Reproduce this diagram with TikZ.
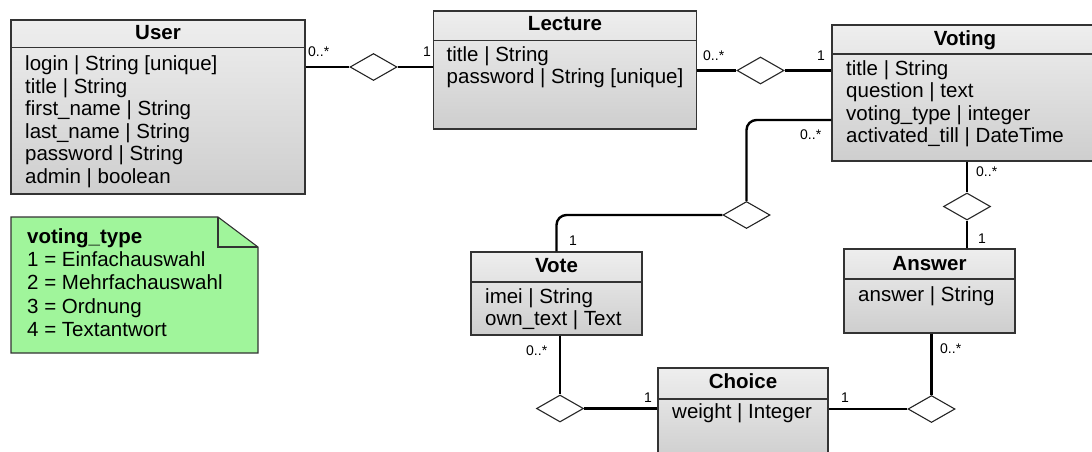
\documentclass[tikz,border=0pt]{standalone}
\usepackage{fontspec}
\setmainfont{Liberation Sans}
\usepackage{tikz}
\usetikzlibrary{shapes.geometric}
\definecolor{notegreen}{RGB}{160,245,155}
\definecolor{boxtop}{RGB}{238,238,238}
\definecolor{boxbottom}{RGB}{206,206,206}

\begin{document}
\begin{tikzpicture}[x=1pt, y=-1pt,
    classbox/.style={draw=black!80, line width=1.1pt, top color=boxtop, bottom color=boxbottom, inner sep=0pt},
    classname/.style={anchor=base, inner sep=0pt, font=\bfseries\fontsize{20.5}{22.5}\selectfont},
    attrs/.style={anchor=base west, inner sep=0pt, align=left, font=\fontsize{20.5}{22.5}\selectfont},
    sepline/.style={draw=black!80, line width=1.1pt},
    agg/.style={diamond, draw=black!85, line width=1.1pt, fill=white, inner sep=0pt, minimum width=47pt, minimum height=27pt},
    assoc/.style={line width=2.4pt},
    mult/.style={anchor=base west, inner sep=0pt, font=\fontsize{14}{16}\selectfont}]
  \useasboundingbox (0,0) rectangle (1092,451);
  \clip (0,0) rectangle (1092,451);

  \node[classbox, minimum width=294pt, minimum height=174pt] (user) at (158,107) {};
  \draw[sepline] (11,47.5) -- (305,47.5);
  \node[classname] (username) at (158,39.5) {User};
  \node[attrs] (userattrs) at (25,183) {login | String [unique]\\title | String\\first\_name | String\\last\_name | String\\password | String\\admin | boolean};

  \node[classbox, minimum width=263pt, minimum height=118pt] (lecture) at (565,70) {};
  \draw[sepline] (433.5,40.5) -- (696.5,40.5);
  \node[classname] (lecturename) at (565,30) {Lecture};
  \node[attrs] (lectureattrs) at (446.5,83.5) {title | String\\password | String [unique]};

  \node[classbox, minimum width=266pt, minimum height=136pt] (voting) at (965,93) {};
  \draw[sepline] (832,54) -- (1098,54);
  \node[classname] (votingname) at (965,45) {Voting};
  \node[attrs] (votingattrs) at (846,142.5) {title | String\\question | text\\voting\_type | integer\\activated\_till | DateTime};

  \node[classbox, minimum width=171pt, minimum height=83pt] (vote) at (556.5,293.5) {};
  \draw[sepline] (471,282) -- (642,282);
  \node[classname] (votename) at (556.5,272) {Vote};
  \node[attrs] (voteattrs) at (485,325.5) {imei | String\\own\_text | Text};

  \node[classbox, minimum width=171pt, minimum height=84pt] (answer) at (929.5,291) {};
  \draw[sepline] (844,279) -- (1015,279);
  \node[classname] (answername) at (929.5,270.5) {Answer};
  \node[attrs] (answerattrs) at (858,301.5) {answer | String};

  \node[classbox, minimum width=170pt, minimum height=92pt] (choice) at (743,414) {};
  \draw[sepline] (658,399) -- (828,399);
  \node[classname] (choicename) at (743,388) {Choice};
  \node[attrs] (choiceattrs) at (672,418) {weight | Integer};

  \draw[draw=black!80, line width=1.1pt, fill=notegreen] (11,217) -- (218,217) -- (258,247) -- (258,353) -- (11,353) -- cycle;
  \draw[draw=black!80, line width=1.1pt] (218,217) -- (218,247) -- (258,247);
  \node[attrs, font=\fontsize{20.5}{23.4}\selectfont] (notetext) at (27,336.6) {\textbf{voting\_type}\\1 = Einfachauswahl\\2 = Mehrfachauswahl\\3 = Ordnung\\4 = Textantwort};

  \node[agg] (d1) at (373.5,67) {};
  \node[agg] (d2) at (760.5,70.5) {};
  \node[agg] (d3) at (746.5,215) {};
  \node[agg] (d4) at (967,206.5) {};
  \node[agg] (d5) at (560,408.5) {};
  \node[agg] (d6) at (931.5,409) {};
  \coordinate (votingleft) at ([yshift=-27pt]voting.west);

  \draw[assoc] (d1 -| user.east) -- (d1.west);
  \draw[assoc] (d1.east) -- (d1 -| lecture.west);
  \draw[assoc] (d2 -| lecture.east) -- (d2.west);
  \draw[assoc] (d2.east) -- (d2 -| voting.west);
  \draw[assoc, rounded corners=10pt] (votingleft) -| (d3.north);
  \draw[assoc, rounded corners=10pt] (d3.west) -| (vote.north);
  \draw[assoc] (d4 |- voting.south) -- (d4.north);
  \draw[assoc] (d4.south) -- (d4 |- answer.north);
  \draw[assoc] (d5 |- vote.south) -- (d5.north);
  \draw[assoc] (d5.east) -- (d5 -| choice.west);
  \draw[assoc] (d6 |- answer.south) -- (d6.north);
  \draw[assoc] (d6.west) -- (d6 -| choice.east);

  \node[mult] (m1) at (308,56) {0..*};
  \node[mult] (m2) at (423,56) {1};
  \node[mult] (m3) at (703,60.7) {0..*};
  \node[mult] (m4) at (817,60.7) {1};
  \node[mult] (m5) at (800,139) {0..*};
  \node[mult] (m6) at (569,245) {1};
  \node[mult] (m7) at (976,176) {0..*};
  \node[mult] (m8) at (978,243) {1};
  \node[mult] (m9) at (526,355) {0..*};
  \node[mult] (m10) at (644,402) {1};
  \node[mult] (m11) at (841,402) {1};
  \node[mult] (m12) at (940,353) {0..*};
\end{tikzpicture}
\end{document}
